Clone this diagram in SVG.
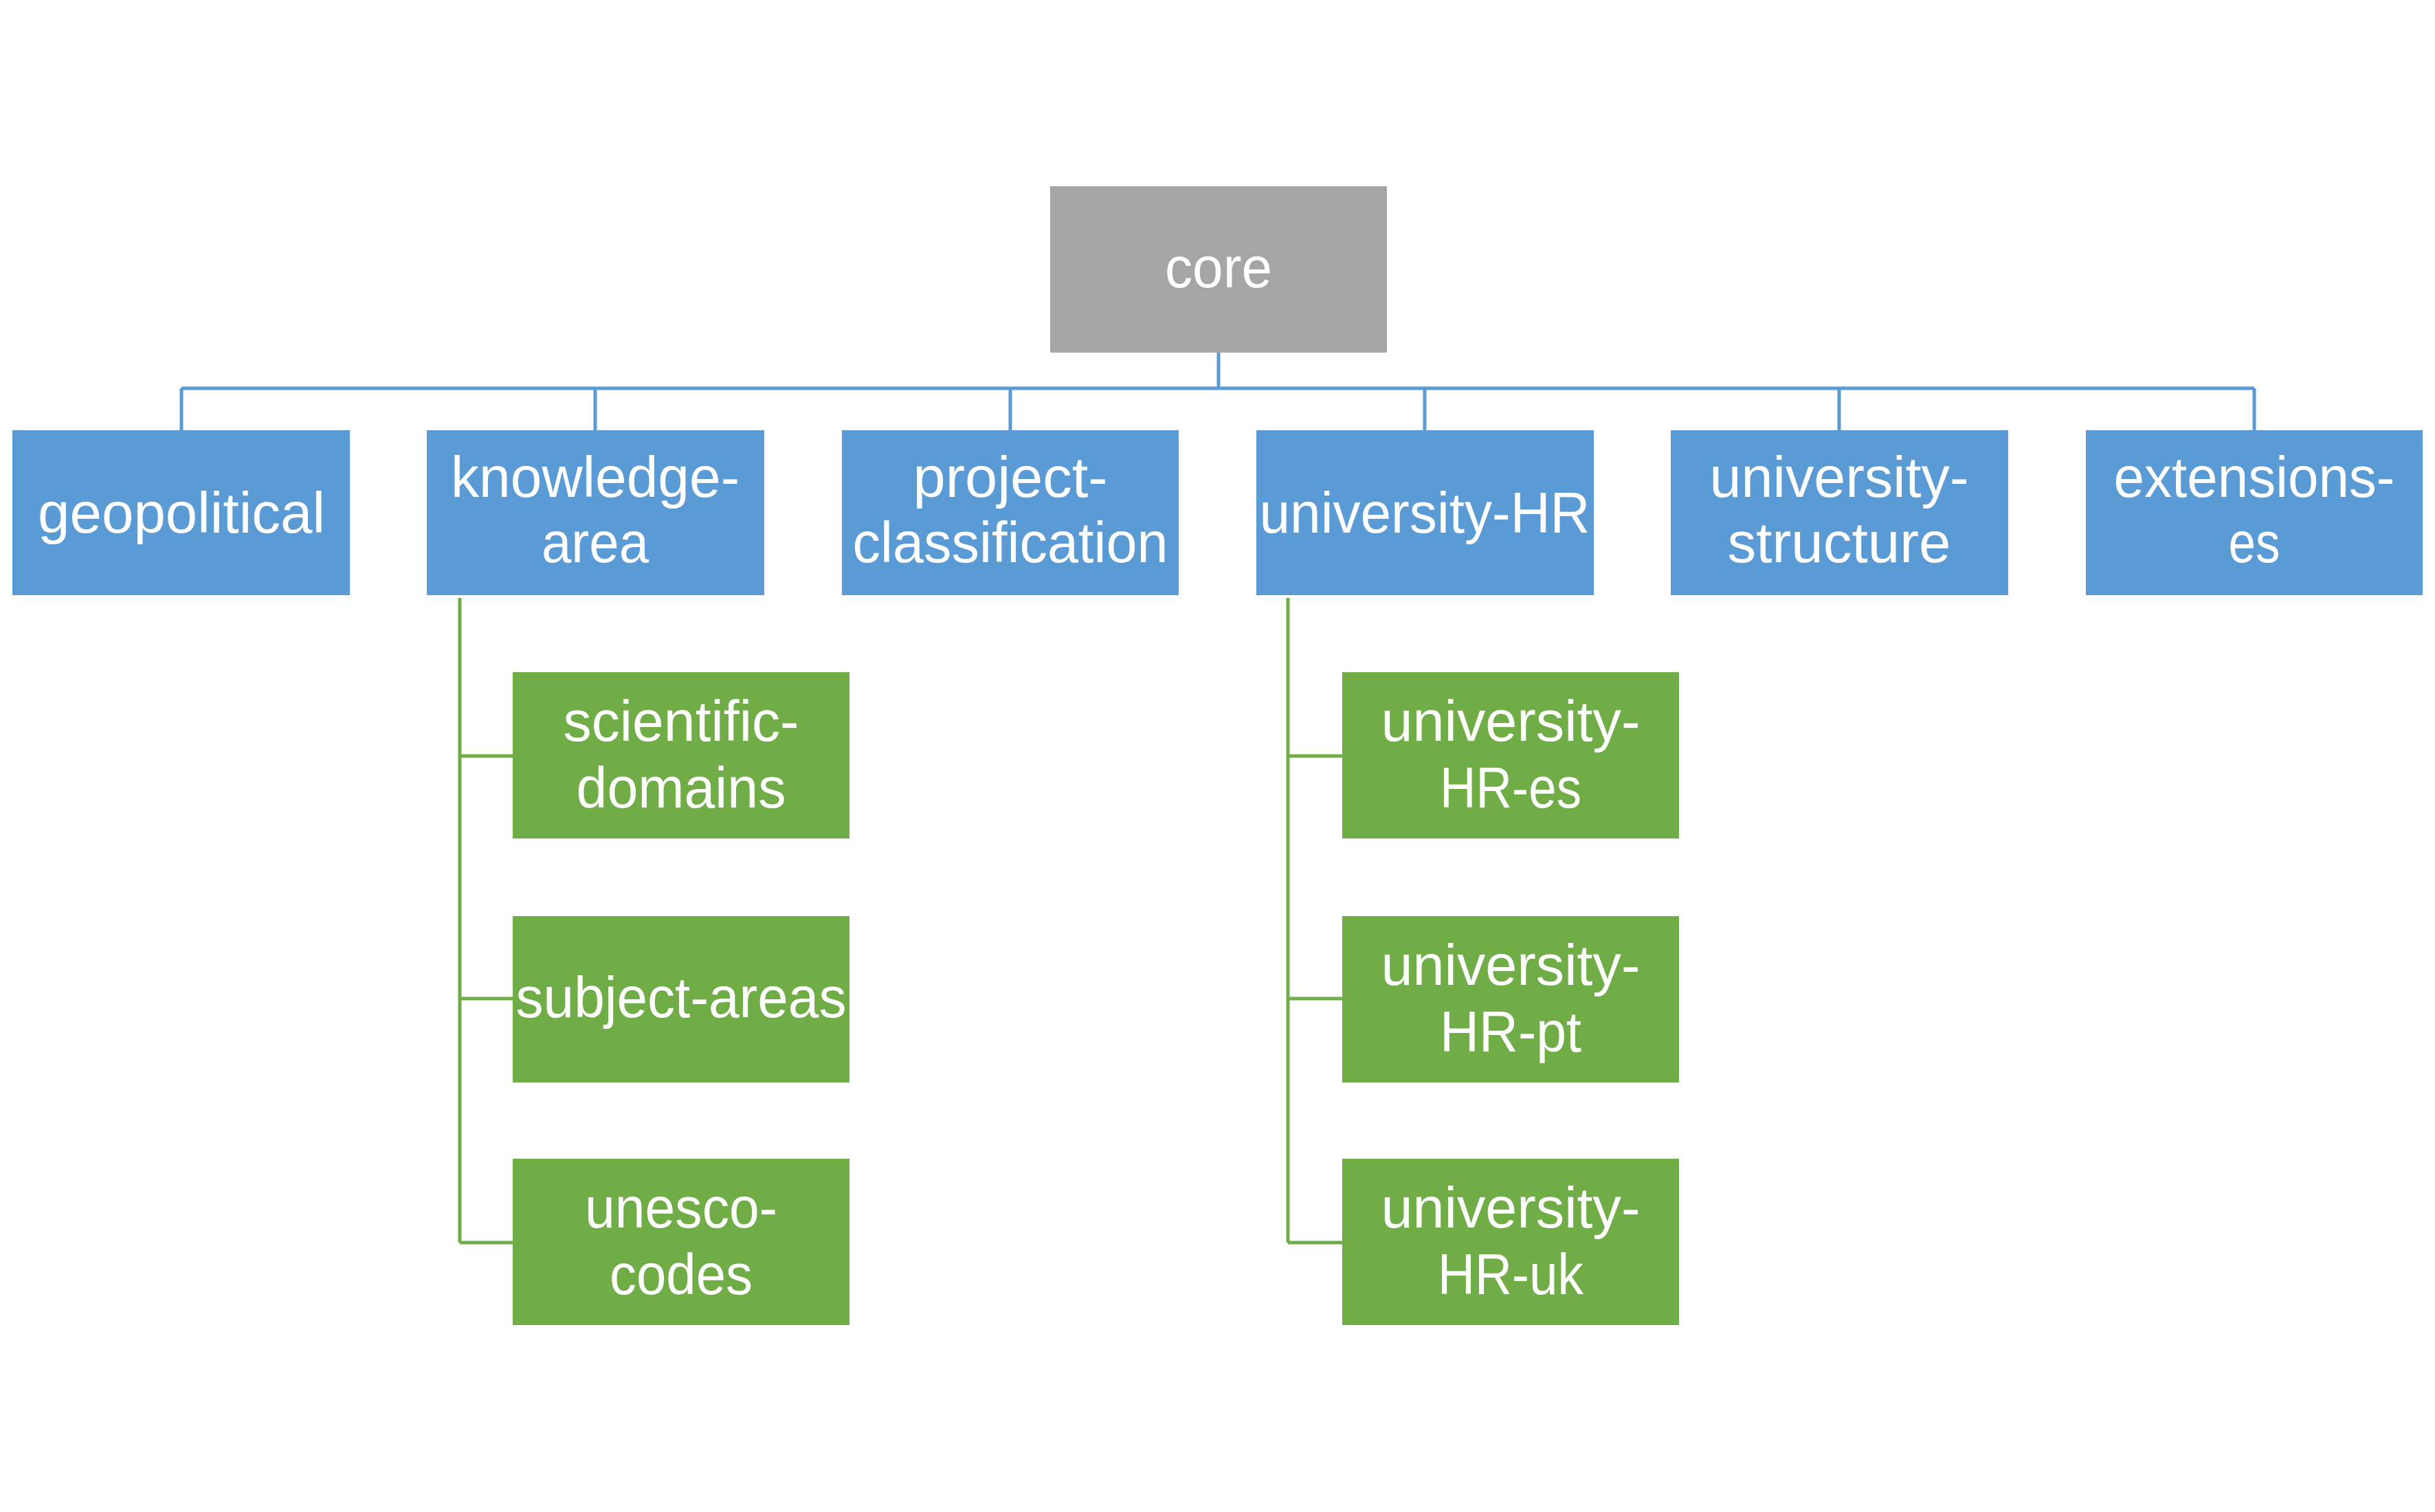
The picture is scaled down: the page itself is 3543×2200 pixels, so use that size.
<svg xmlns="http://www.w3.org/2000/svg" width="3543" height="2200" viewBox="0 0 3543 2200">
<style>
text{font-family:"Liberation Sans",Arial,sans-serif;font-size:84px;fill:#fff;text-anchor:middle}
.b{fill:#5B9BD5}.g{fill:#70AD47}.c{fill:#A5A5A5}
.lb{stroke:#5B9BD5;stroke-width:5;fill:none}.lg{stroke:#70AD47;stroke-width:5;fill:none}
</style>
<rect width="3543" height="2200" fill="#fff"/>
<g id="connectors">
<path class="lb" d="M1773 513V565M264 565H3280M264 565V626M866 565V626M1470 565V626M2073 565V626M2676 565V626M3280 565V626"/>
<path class="lg" d="M669 870V1808M669 1100H746M669 1453H746M669 1808H746"/>
<path class="lg" d="M1874 870V1808M1874 1100H1953M1874 1453H1953M1874 1808H1953"/>
</g>
<g id="core"><rect class="c" x="1528" y="271" width="490" height="242"/><text x="1773" y="418" textLength="156" lengthAdjust="spacingAndGlyphs">core</text></g>
<g id="geopolitical"><rect class="b" x="18" y="626" width="491" height="240"/><text x="264" y="775" textLength="418" lengthAdjust="spacingAndGlyphs">geopolitical</text></g>
<g id="knowledge-area"><rect class="b" x="621" y="626" width="491" height="240"/><text x="866" y="723" textLength="420" lengthAdjust="spacingAndGlyphs">knowledge-</text><text x="866" y="818" textLength="156" lengthAdjust="spacingAndGlyphs">area</text></g>
<g id="project-classification"><rect class="b" x="1225" y="626" width="490" height="240"/><text x="1470" y="723" textLength="283" lengthAdjust="spacingAndGlyphs">project-</text><text x="1470" y="818" textLength="459" lengthAdjust="spacingAndGlyphs">classification</text></g>
<g id="university-HR"><rect class="b" x="1828" y="626" width="491" height="240"/><text x="2073" y="775" textLength="481" lengthAdjust="spacingAndGlyphs">university-HR</text></g>
<g id="university-structure"><rect class="b" x="2431" y="626" width="491" height="240"/><text x="2676" y="723" textLength="377" lengthAdjust="spacingAndGlyphs">university-</text><text x="2676" y="818" textLength="325" lengthAdjust="spacingAndGlyphs">structure</text></g>
<g id="extensions-es"><rect class="b" x="3035" y="626" width="490" height="240"/><text x="3280" y="723" textLength="409" lengthAdjust="spacingAndGlyphs">extensions-</text><text x="3280" y="818" textLength="75" lengthAdjust="spacingAndGlyphs">es</text></g>
<g id="scientific-domains"><rect class="g" x="746" y="978" width="490" height="242"/><text x="991" y="1078" textLength="343" lengthAdjust="spacingAndGlyphs">scientific-</text><text x="991" y="1175" textLength="305" lengthAdjust="spacingAndGlyphs">domains</text></g>
<g id="subject-areas"><rect class="g" x="746" y="1333" width="490" height="242"/><text x="991" y="1480" textLength="481" lengthAdjust="spacingAndGlyphs">subject-areas</text></g>
<g id="unesco-codes"><rect class="g" x="746" y="1686" width="490" height="242"/><text x="991" y="1786" textLength="280" lengthAdjust="spacingAndGlyphs">unesco-</text><text x="991" y="1883" textLength="208" lengthAdjust="spacingAndGlyphs">codes</text></g>
<g id="university-HR-es"><rect class="g" x="1953" y="978" width="490" height="242"/><text x="2198" y="1078" textLength="377" lengthAdjust="spacingAndGlyphs">university-</text><text x="2198" y="1175" textLength="206" lengthAdjust="spacingAndGlyphs">HR-es</text></g>
<g id="university-HR-pt"><rect class="g" x="1953" y="1333" width="490" height="242"/><text x="2198" y="1433" textLength="377" lengthAdjust="spacingAndGlyphs">university-</text><text x="2198" y="1530" textLength="206" lengthAdjust="spacingAndGlyphs">HR-pt</text></g>
<g id="university-HR-uk"><rect class="g" x="1953" y="1686" width="490" height="242"/><text x="2198" y="1786" textLength="377" lengthAdjust="spacingAndGlyphs">university-</text><text x="2198" y="1883" textLength="212" lengthAdjust="spacingAndGlyphs">HR-uk</text></g>
</svg>
